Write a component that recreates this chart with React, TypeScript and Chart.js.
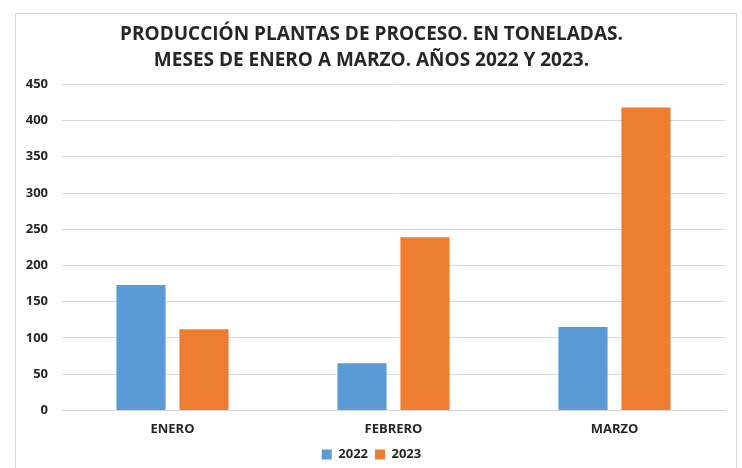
import React, { useEffect, useRef } from "react";
import { Chart, registerables } from "chart.js";

Chart.register(...registerables);

const categories = ["ENERO", "FEBRERO", "MARZO"];
const series2022 = [173, 65, 115];
const series2023 = [112, 239, 418];
const seriesLabels = ["2022", "2023"];
const titleLines = [
  "PRODUCCIÓN PLANTAS DE PROCESO. EN TONELADAS.",
  "MESES DE ENERO A MARZO. AÑOS 2022 Y 2023.",
];

export default function App() {
  const ref = useRef<HTMLCanvasElement | null>(null);
  useEffect(() => {
    document.body.style.margin = "0";
    document.body.style.overflow = "hidden";
    const ctx = ref.current!;
    const chart = new Chart(ctx, {
      type: "bar",
      data: {
        labels: categories,
        datasets: [
          {
            label: seriesLabels[0],
            data: series2022,
            backgroundColor: "#5B9BD5",
            categoryPercentage: 0.57,
            barPercentage: 0.78,
          },
          {
            label: seriesLabels[1],
            data: series2023,
            backgroundColor: "#ED7D31",
            categoryPercentage: 0.57,
            barPercentage: 0.78,
          },
        ],
      },
      options: {
        animation: false,
        responsive: false,
        maintainAspectRatio: false,
        layout: { padding: { left: 2, right: 11, top: 5, bottom: 0 } },
        plugins: {
          title: {
            display: true,
            text: titleLines,
            color: "#262626",
            font: { family: "Open Sans", size: 19, weight: "bold", lineHeight: 1.35 },
            padding: { top: 3, bottom: 11 },
          },
          legend: {
            position: "bottom",
            labels: {
              color: "#262626",
              font: { family: "Open Sans", size: 13, weight: "bold" },
              boxWidth: 10,
              boxHeight: 10,
              padding: 7,
            },
          },
          tooltip: { enabled: false },
        },
        scales: {
          x: {
            grid: { display: false, drawTicks: false },
            border: { color: "#d9d9d9", width: 1 },
            afterFit: (scale: any) => {
              scale.height = scale.height - 7;
            },
            ticks: {
              color: "#262626",
              font: { family: "Open Sans", size: 13, weight: "bold" },
              padding: 11,
            },
          },
          y: {
            min: 0,
            max: 450,
            grid: { color: "#d9d9d9", drawTicks: false },
            border: { display: false },
            afterFit: (scale: any) => {
              scale.width = 44;
            },
            ticks: {
              stepSize: 50,
              color: "#262626",
              font: { family: "Open Sans", size: 13, weight: "bold" },
              padding: 14,
            },
          },
        },
      },
    });
    return () => chart.destroy();
  }, []);
  return (
    <div
      style={{
        position: "fixed",
        left: 15,
        top: 13,
        width: 720,
        height: 470,
        border: "1px solid #d9d9d9",
        background: "#fff",
      }}
    >
      <canvas ref={ref} width={720} height={457} style={{ display: "block" }} />
    </div>
  );
}
